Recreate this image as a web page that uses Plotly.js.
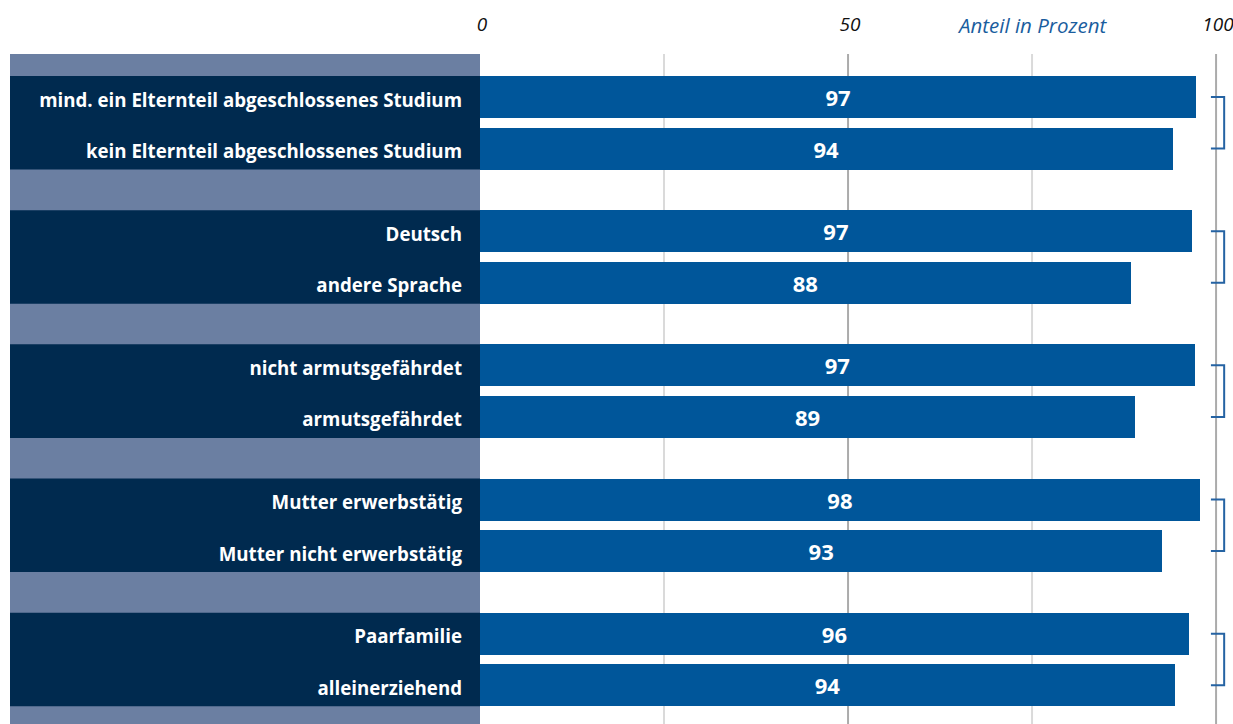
<!DOCTYPE html>
<html>
<head>
<meta charset="utf-8">
<script src="https://cdn.plot.ly/plotly-3.0.1.min.js"></script>
<style>html,body{margin:0;padding:0;background:#fff;}#chart{width:1233px;height:724px;}</style>
</head>
<body>
<div id="chart"></div>
<script>
// ---- data ----
var categories = [
  "mind. ein Elternteil abgeschlossenes Studium",
  "kein Elternteil abgeschlossenes Studium",
  "Deutsch",
  "andere Sprache",
  "nicht armutsgefährdet",
  "armutsgefährdet",
  "Mutter erwerbstätig",
  "Mutter nicht erwerbstätig",
  "Paarfamilie",
  "alleinerziehend"
];
var values = [97.3, 94.1, 96.7, 88.4, 97.1, 89.0, 97.8, 92.7, 96.3, 94.4];
var groupOf = [0, 0, 1, 1, 2, 2, 3, 3, 4, 4];
var posInGroup = [0, 1, 0, 1, 0, 1, 0, 1, 0, 1];
var xTicks = [0, 50, 100];
var axisLabel = "Anteil in Prozent";

// ---- layout helpers ----
var GROUP_STEP = 2.6, BAR_W = 0.814;
var yPos = categories.map(function (c, i) { return groupOf[i] * GROUP_STEP + posInGroup[i]; });
var nGroups = Math.max.apply(null, groupOf) + 1;

var NAVY = "#002a4f", LIGHT = "#6b7fa2", BAR = "#00569a", BRACKET = "#2563a3";
var panelX0 = (10 - 480) / 753;

var shapes = [];
// left panel background (light)
shapes.push({type: "rect", xref: "paper", yref: "paper", x0: panelX0, x1: 0, y0: 0, y1: 1,
  fillcolor: LIGHT, line: {width: 0}, layer: "below"});
// navy panels behind each pair
for (var g = 0; g < nGroups; g++) {
  shapes.push({type: "rect", xref: "paper", yref: "y", x0: panelX0, x1: 0,
    y0: g * GROUP_STEP - BAR_W / 2, y1: g * GROUP_STEP + 1 + BAR_W / 2,
    fillcolor: NAVY, line: {width: 0}, layer: "below"});
}
// grid lines
[[25, "#dadada"], [50, "#ababab"], [75, "#dadada"], [100, "#ababab"]].forEach(function (gl) {
  shapes.push({type: "line", xref: "x", yref: "paper", x0: gl[0], x1: gl[0], y0: 0, y1: 1,
    line: {color: gl[1], width: 2}, layer: "below"});
});
// brackets linking each pair
for (var g2 = 0; g2 < nGroups; g2++) {
  var ya = g2 * GROUP_STEP, yb = g2 * GROUP_STEP + 1;
  shapes.push({type: "path", xref: "x", yref: "y",
    path: "M 99.3 " + ya + " L 101.1 " + ya + " L 101.1 " + yb + " L 99.3 " + yb,
    line: {color: BRACKET, width: 2}, layer: "above"});
}

var trace = {
  type: "bar",
  orientation: "h",
  x: values,
  y: yPos,
  width: BAR_W,
  marker: {color: BAR, line: {width: 0}},
  texttemplate: "%{x:.0f}",
  textposition: "inside",
  insidetextanchor: "middle",
  textangle: 0,
  constraintext: "none",
  textfont: {family: "Open Sans, sans-serif", size: 22, color: "#ffffff", weight: "bold"},
  hoverinfo: "skip"
};

var layout = {
  width: 1233, height: 724,
  margin: {l: 480, r: 0, t: 54, b: 0, pad: 0},
  paper_bgcolor: "#ffffff",
  plot_bgcolor: "rgba(0,0,0,0)",
  showlegend: false,
  bargap: 0,
  xaxis: {
    range: [0, 102.3],
    side: "top",
    tickvals: xTicks,
    ticktext: xTicks.map(String),
    ticks: "",
    ticklabelstandoff: 18,
    ticklabelshift: 2,
    ticklabeloverflow: "allow",
    showgrid: false, zeroline: false, showline: false,
    tickfont: {family: "Open Sans, sans-serif", size: 19, color: "#111111", style: "italic"},
    fixedrange: true
  },
  yaxis: {
    range: [12.15, -0.833],
    tickvals: yPos,
    ticktext: categories,
    ticks: "",
    ticklabelstandoff: 17,
    ticklabelshift: -3,
    showgrid: false, zeroline: false, showline: false,
    tickfont: {family: "Open Sans, sans-serif", size: 18.7, color: "#ffffff", weight: "bold"},
    fixedrange: true
  },
  shapes: shapes,
  annotations: [{
    text: axisLabel, xref: "x", yref: "paper", x: 75.1, y: 1 + (54 - 25) / 670,
    xanchor: "center", yanchor: "middle", showarrow: false,
    font: {family: "Open Sans, sans-serif", size: 20.5, color: "#1a5d9e", style: "italic"}
  }]
};

Plotly.newPlot("chart", [trace], layout, {displayModeBar: false, staticPlot: true});
</script>
</body>
</html>
